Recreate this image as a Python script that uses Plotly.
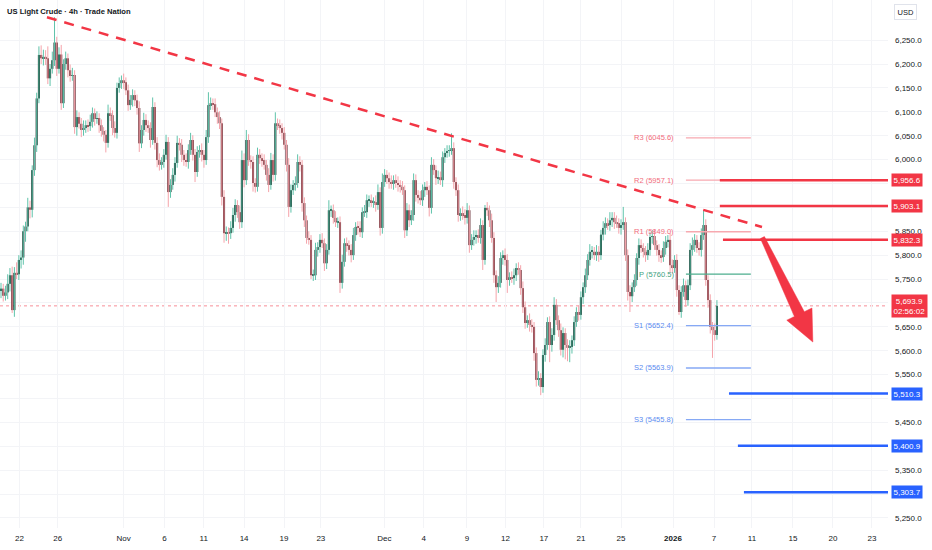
import plotly.graph_objects as go

title_text = "US Light Crude · 4h · Trade Nation"
currency = "USD"

# 4h closes (left to right)
closes = [
    5730, 5715, 5722, 5740, 5758, 5685, 5763, 5760, 5790, 5795,
    5850, 5860, 5900, 5895, 5978, 6030, 6128, 6219, 6212, 6215,
    6212, 6170, 6190, 6208, 6245, 6190, 6220, 6118, 6200, 6212,
    6187, 6175, 6177, 6068, 6089, 6075, 6062, 6066, 6072, 6070,
    6079, 6097, 6085, 6087, 6072, 6060, 6052, 6035, 6097, 6093,
    6066, 6056, 6150, 6160, 6166, 6162, 6145, 6114, 6125, 6135,
    6124, 6108, 6034, 6062, 6083, 6072, 6066, 6041,
    6110, 6035, 5999, 5989, 5995, 6010, 6037, 5932, 5947, 5968,
    5993, 6035, 6031, 6010, 5999, 5995, 6020, 6041, 6010, 5974,
    6016, 6020, 6010, 5999, 6047, 6114, 6118, 6116, 6099, 6089,
    6076, 5922, 5846, 5848, 5846, 5857, 5884, 5905, 5890, 5869,
    5999, 5957, 6041, 5999, 5995, 5951, 5943, 6010, 6003, 5999,
    5989, 5968, 5947, 5999, 5968, 6076, 6072, 6066, 6056, 6031,
    5989, 5901, 5936, 5947, 5951, 5995, 5989, 5909,
    5873, 5836, 5832, 5758, 5758, 5811, 5817, 5832, 5825, 5783,
    5811, 5894, 5894, 5878, 5869, 5869, 5742, 5786, 5825, 5821,
    5811, 5800, 5842, 5859, 5857, 5848, 5890, 5890, 5915, 5915,
    5911, 5911, 5905, 5932, 5857, 5953, 5968, 5961, 5953, 5949,
    5957, 5951, 5947, 5943, 5936, 5852, 5894, 5873, 5884, 5957,
    5926, 5920, 5915, 5936, 5943, 5936, 5899, 5989, 5978, 5961,
    5963, 5957, 6005, 6014, 6018, 6020, 6024, 5953, 5936,
    5884, 5888, 5884, 5878, 5894, 5821, 5832, 5838, 5842, 5836,
    5863, 5790, 5899, 5894, 5873, 5836, 5758, 5733, 5742, 5794,
    5800, 5790, 5748, 5754, 5752, 5758, 5773, 5769, 5731, 5691,
    5658, 5664, 5654, 5650, 5595, 5539, 5543, 5524, 5591, 5612,
    5660, 5612, 5633, 5696, 5664, 5643, 5602, 5637, 5612, 5606,
    5608, 5622, 5660, 5681, 5675, 5712, 5733, 5758, 5790, 5807,
    5807, 5800, 5807, 5800, 5843, 5857, 5867, 5863, 5873, 5878,
    5869, 5867, 5857, 5863, 5869, 5800, 5723, 5714, 5733, 5748,
    5794, 5821, 5815, 5807, 5800, 5811, 5838, 5840, 5821, 5811,
    5800, 5796, 5815, 5828, 5832, 5779, 5773, 5790, 5727, 5681,
    5723, 5737, 5706, 5737, 5811, 5821, 5832, 5815, 5811, 5842,
    5863, 5748, 5706, 5650, 5643, 5633, 5693.9,
]
first_open = 5725

# wick extension above the body top / below the body bottom
wick_up = [
    12, 10, 14, 20, 15, 18, 12, 22, 10, 15,
    12, 10, 20, 14, 10, 16, 12, 18, 20, 15,
    14, 25, 10, 18, 53, 12, 15, 20, 10, 14,
    10, 12, 15, 10, 14, 10, 12, 16, 10, 12,
    15, 12, 10, 14, 10, 12, 8, 10, 18, 12,
    10, 14, 11, 12, 10, 14, 10, 12, 10, 12,
    10, 12, 14, 10, 15, 12, 10, 12,
    20, 10, 12, 14, 10, 12, 15, 10, 12, 14,
    12, 15, 10, 12, 10, 14, 12, 15, 10, 12,
    12, 10, 14, 10, 15, 27, 12, 10, 12, 10,
    12, 10, 14, 12, 10, 14, 15, 12, 10, 14,
    20, 14, 21, 12, 10, 12, 10, 15, 12, 10,
    12, 10, 14, 15, 12, 23, 10, 12, 10, 12,
    10, 14, 12, 10, 14, 16, 12, 10,
    12, 10, 14, 10, 12, 15, 10, 12, 14, 10,
    12, 21, 10, 12, 14, 10, 12, 15, 10, 12,
    10, 12, 15, 10, 12, 14, 10, 15, 12, 10,
    12, 10, 14, 16, 10, 18, 12, 10, 12, 14,
    10, 12, 14, 10, 12, 10, 15, 12, 10, 14,
    12, 10, 14, 12, 10, 12, 10, 16, 12, 10,
    14, 12, 12, 10, 12, 10, 31, 12, 10,
    12, 10, 14, 12, 15, 10, 12, 14, 10, 12,
    14, 10, 6, 12, 10, 14, 12, 10, 14, 12,
    10, 14, 12, 10, 12, 14, 10, 12, 10, 14,
    12, 10, 14, 12, 10, 12, 14, 10, 12, 14,
    10, 12, 14, 16, 12, 10, 14, 12, 10, 12,
    14, 10, 12, 10, 14, 12, 10, 14, 12, 16,
    12, 10, 14, 12, 10, 14, 12, 10, 17, 12,
    12, 14, 10, 12, 32, 10, 12, 14, 10, 12,
    10, 14, 12, 10, 12, 14, 10, 12, 14, 10,
    12, 10, 14, 12, 10, 14, 12, 10, 12, 10,
    12, 14, 10, 12, 14, 16, 12, 10, 12, 14,
    31, 12, 10, 12, 10, 14, 12,
]
wick_dn = [
    15, 12, 10, 14, 16, 6, 14, 10, 12, 18,
    15, 22, 10, 18, 16, 12, 14, 10, 12, 15,
    14, 12, 16, 10, 12, 15, 10, 14, 10, 12,
    15, 12, 10, 14, 18, 10, 15, 12, 10, 12,
    10, 12, 14, 10, 16, 12, 14, 20, 10, 12,
    15, 10, 12, 10, 12, 14, 10, 12, 10, 14,
    12, 14, 18, 10, 12, 14, 10, 16,
    10, 14, 15, 12, 10, 12, 10, 31, 12, 10,
    14, 10, 12, 15, 12, 10, 14, 10, 12, 21,
    10, 12, 14, 16, 10, 12, 10, 12, 10, 14,
    12, 18, 20, 16, 22, 12, 10, 14, 12, 14,
    12, 15, 10, 12, 14, 18, 12, 10, 12, 14,
    10, 12, 15, 10, 14, 12, 10, 12, 14, 10,
    14, 21, 12, 10, 12, 10, 14, 18,
    14, 12, 10, 8, 12, 10, 14, 12, 10, 16,
    12, 10, 14, 12, 10, 12, 21, 12, 10, 14,
    12, 15, 10, 12, 14, 10, 12, 10, 12, 14,
    10, 12, 14, 10, 16, 12, 10, 12, 14, 10,
    12, 10, 14, 12, 10, 16, 12, 14, 10, 12,
    14, 12, 10, 12, 14, 10, 18, 12, 10, 14,
    12, 10, 14, 12, 10, 12, 10, 14, 12,
    14, 12, 10, 14, 12, 16, 10, 12, 14, 10,
    12, 21, 10, 12, 14, 10, 16, 31, 12, 10,
    14, 12, 27, 12, 10, 14, 12, 10, 14, 12,
    12, 10, 14, 12, 16, 14, 12, 17, 12, 14,
    10, 36, 14, 12, 10, 14, 12, 16, 30, 28,
    30, 14, 12, 10, 12, 10, 14, 12, 10, 12,
    14, 10, 12, 14, 10, 12, 14, 10, 12, 14,
    14, 10, 12, 14, 10, 12, 18, 33, 12, 10,
    12, 14, 10, 12, 14, 10, 12, 14, 10, 12,
    14, 12, 10, 14, 12, 16, 12, 10, 14, 6,
    12, 10, 14, 12, 10, 12, 14, 10, 12, 14,
    10, 12, 16, 14, 58, 12, 10,
]

countdown = "02:56:02"

tick_labels = ["22", "26", "Nov", "6", "11", "14", "19", "23", "Dec", "4", "9",
               "12", "17", "21", "25", "<b>2026</b>", "7", "11", "15", "20", "23"]
tick_pos = [8.3, 25.4, 55.0, 73.3, 90.9, 109.0, 126.9, 143.4, 171.9, 189.5, 208.9,
            226.2, 243.4, 260.0, 278.0, 301.3, 319.7, 336.7, 355.1, 373.0, 390.5]
price_ticks = list(range(5250, 6251, 50))

pivot_names = ["R3", "R2", "R1", "P", "S1", "S2", "S3"]
pivot_values = [6045.6, 5957.1, 5849.0, 5760.5, 5652.4, 5563.9, 5455.8]
pivot_span = (307.1, 336.2)
pivot_label_x = 302.6

res_levels = [5956.6, 5903.1, 5832.3]
res_start = [322.3, 322.3, 323.7]
sup_levels = [5510.3, 5400.9, 5303.7]
sup_start = [326.4, 330.4, 333.1]

trend_start = (20.6, 6298.0)
trend_end = (341.2, 5858.8)
arrow_tail = (341.4, 5836.8)
arrow_tip = (364.0, 5618.2)

# ---------------- styling ----------------
W, H = 932, 550
ML, MR, MT, MB = 0, 44, 0, 22
XR = [-0.45, 397.7]
YR = [5229.0, 6334.0]
RED = "#f23645"
BLUE = "#2962ff"
TXT = "#131722"
FONT = "Liberation Sans, Arial, sans-serif"
UP_BODY, UP_WICK = "#0c2a22", "#5fc3aa"
DN_BODY, DN_WICK = "#571820", "#f5a3aa"

n = len(closes)
idx = list(range(n))
opens = [first_open] + closes[:-1]
highs = [max(o, c) + w for o, c, w in zip(opens, closes, wick_up)]
lows = [min(o, c) - w for o, c, w in zip(opens, closes, wick_dn)]
is_up = [c >= o for o, c in zip(opens, closes)]

fig = go.Figure()

for up, col in ((True, UP_WICK), (False, DN_WICK)):
    wx, wy = [], []
    for i in idx:
        if is_up[i] == up:
            wx += [i, i, None]
            wy += [lows[i], highs[i], None]
    fig.add_trace(go.Scatter(x=wx, y=wy, mode="lines", line=dict(color=col, width=1),
                             hoverinfo="skip"))

fig.add_trace(go.Bar(
    x=idx,
    y=[max(abs(c - o), 2.0) for o, c in zip(opens, closes)],
    base=[min(o, c) for o, c in zip(opens, closes)],
    width=0.92,
    marker=dict(color=[UP_BODY if u else DN_BODY for u in is_up], line=dict(width=0)),
    hoverinfo="skip",
))

shapes = []
annotations = []

# current price dotted line
shapes.append(dict(type="line", xref="x", yref="y", x0=XR[0], x1=XR[1], y0=closes[-1], y1=closes[-1],
                   line=dict(color=RED, width=1, dash="dot"), opacity=0.55, layer="below"))

# trend line
shapes.append(dict(type="line", xref="x", yref="y", x0=trend_start[0], y0=trend_start[1],
                   x1=trend_end[0], y1=trend_end[1], line=dict(color=RED, width=2.5, dash="10px,8px")))

# pivot lines
pivot_line_cols = ["#f7a9b0", "#f7a9b0", "#f7a9b0", "#4cae8e", "#86a9f5", "#86a9f5", "#86a9f5"]
pivot_text_cols = ["#f26d7d", "#f26d7d", "#f26d7d", "#3fa27f", "#5b8cf0", "#5b8cf0", "#5b8cf0"]
for name, val, lc, tc in zip(pivot_names, pivot_values, pivot_line_cols, pivot_text_cols):
    shapes.append(dict(type="line", xref="x", yref="y", x0=pivot_span[0], x1=pivot_span[1],
                       y0=val, y1=val, line=dict(color=lc, width=1.3)))
    annotations.append(dict(xref="x", yref="y", x=pivot_label_x, y=val, text=f"{name} ({val:.1f})",
                            showarrow=False, xanchor="right", yanchor="middle",
                            font=dict(family=FONT, size=7.5, color=tc)))

# resistance / support lines with price boxes
for lvls, starts, col in ((res_levels, res_start, RED), (sup_levels, sup_start, BLUE)):
    for v, s in zip(lvls, starts):
        shapes.append(dict(type="line", xref="x", yref="y", x0=s, x1=XR[1], y0=v, y1=v,
                           line=dict(color=col, width=2.5)))
        annotations.append(dict(xref="paper", yref="y", x=1, xshift=3, y=v, text=f"{v:,.1f}",
                                showarrow=False, xanchor="left", yanchor="middle", bgcolor=col,
                                borderpad=1.5, font=dict(family=FONT, size=8, color="white")))

# current price box
annotations.append(dict(xref="paper", yref="y", x=1, xshift=3, y=closes[-1],
                        text=f"{closes[-1]:,.1f}<br>{countdown}", showarrow=False,
                        xanchor="left", yanchor="middle", bgcolor=RED, borderpad=1.5, align="center",
                        font=dict(family=FONT, size=8, color="white")))

# axis price labels hidden where a level box sits on top of them
box_levels = res_levels + sup_levels
price_text = []
for t in price_ticks:
    covered = any(abs(t - v) < 15 for v in box_levels) or abs(t - closes[-1]) < 30
    price_text.append("" if covered else f"{t:,.1f}")

# arrow drawing (built in pixel space, converted back to data)
pw, ph = W - ML - MR, H - MT - MB
sx = pw / (XR[1] - XR[0])
sy = ph / (YR[1] - YR[0])
def to_px(p):
    return ((p[0] - XR[0]) * sx, (YR[1] - p[1]) * sy)
def to_data(q):
    return (q[0] / sx + XR[0], YR[1] - q[1] / sy)
tx, ty = to_px(arrow_tail)
hx, hy = to_px(arrow_tip)
L = ((hx - tx) ** 2 + (hy - ty) ** 2) ** 0.5
dx, dy = (hx - tx) / L, (hy - ty) / L
nx, ny = -dy, dx
head_len, head_w, shaft_w0, shaft_w1 = 31.0, 14.0, 2.2, 5.5
bx, by = hx - dx * head_len, hy - dy * head_len
pts_px = [
    (tx + nx * shaft_w0, ty + ny * shaft_w0),
    (bx + nx * shaft_w1, by + ny * shaft_w1),
    (bx + nx * head_w, by + ny * head_w),
    (hx, hy),
    (bx - nx * head_w, by - ny * head_w),
    (bx - nx * shaft_w1, by - ny * shaft_w1),
    (tx - nx * shaft_w0, ty - ny * shaft_w0),
]
pts = [to_data(p) for p in pts_px]
path = "M " + " L ".join(f"{x:.3f},{y:.2f}" for x, y in pts) + " Z"
shapes.append(dict(type="path", xref="x", yref="y", path=path, fillcolor=RED,
                   line=dict(color=RED, width=0.5)))

# title and currency
annotations.append(dict(xref="paper", yref="paper", x=0, y=1, xshift=5, yshift=-11,
                        xanchor="left", yanchor="middle", showarrow=False, text=title_text,
                        font=dict(family=FONT, size=7.6, color=TXT, weight=600)))
annotations.append(dict(xref="paper", yref="paper", x=1, y=1, xshift=17, yshift=-12,
                        xanchor="center", yanchor="middle", showarrow=False, text=currency,
                        bordercolor="#e0e3eb", borderwidth=1, borderpad=2.5, bgcolor="white",
                        font=dict(family=FONT, size=7.5, color=TXT)))

fig.update_layout(
    width=W, height=H,
    margin=dict(l=ML, r=MR, t=MT, b=MB),
    paper_bgcolor="white", plot_bgcolor="white",
    showlegend=False, hovermode=False, barmode="overlay",
    shapes=shapes, annotations=annotations,
    xaxis=dict(range=XR, tickvals=tick_pos, ticktext=tick_labels, showgrid=True,
               gridcolor="#f3f4f7", zeroline=False, showline=False, ticks="",
               tickfont=dict(family=FONT, size=8, color=TXT), ticklabelstandoff=4,
               fixedrange=True),
    yaxis=dict(range=YR, side="right", tickvals=price_ticks, ticktext=price_text, showgrid=True,
               gridcolor="#f3f4f7", zeroline=False, showline=False, ticks="",
               tickfont=dict(family=FONT, size=8, color=TXT), ticklabelstandoff=6,
               fixedrange=True),
)

fig.write_html("out.html", config={"displayModeBar": False},
               post_script="document.body.style.margin='0';document.body.style.overflow='hidden';")
